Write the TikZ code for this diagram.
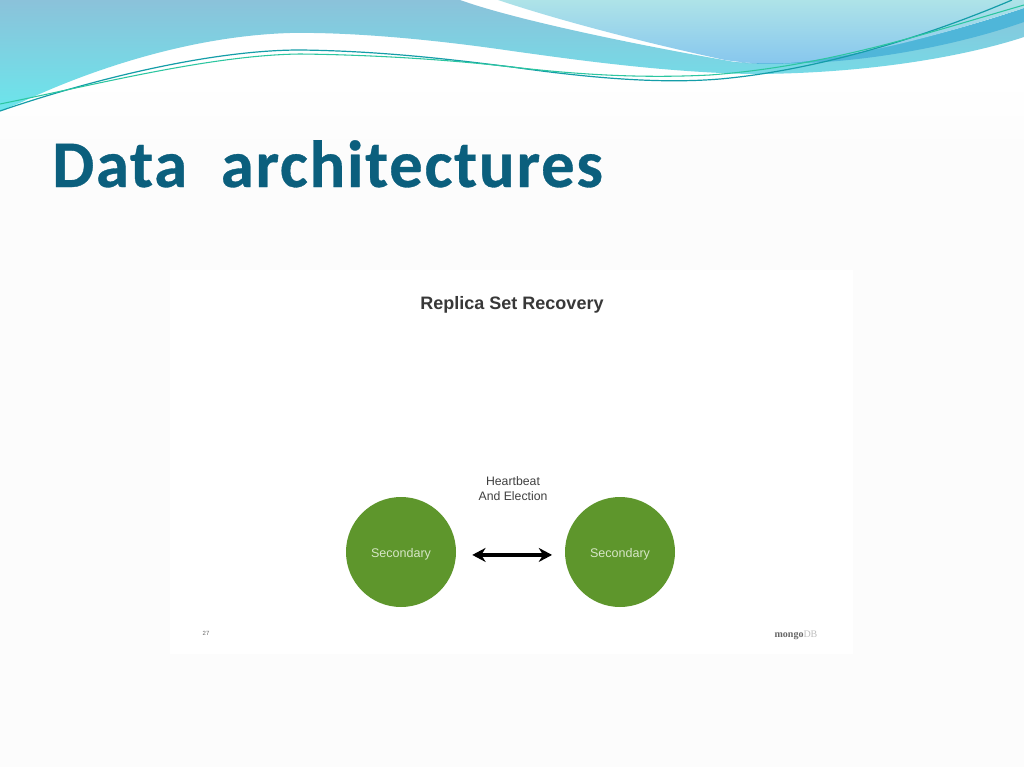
\documentclass[tikz,border=0pt]{standalone}
\usepackage{fontspec}
\setmainfont{Carlito}
\newfontfamily\titlefam[LetterSpace=2.6,FakeBold=0.5]{Carlito Bold}
\newfontfamily\helv{Liberation Sans}
\newfontfamily\seriffam{Liberation Serif}
\usetikzlibrary{arrows.meta}
\definecolor{pagebg}{HTML}{FCFCFC}
\definecolor{titleblue}{HTML}{0B5F7D}
\definecolor{nodegreen}{HTML}{5E962C}
\definecolor{lineteal}{HTML}{149DA8}
\definecolor{linegreen}{HTML}{2CC6A0}
\definecolor{bandtop}{HTML}{8BC2DA}
\definecolor{bandbot}{HTML}{6BE6EC}
\definecolor{uptop}{HTML}{AEE3E8}
\definecolor{upbot}{HTML}{86C6EE}
\definecolor{deepband}{HTML}{4FB6D9}
\definecolor{sectext}{HTML}{D6E6C6}
\tikzset{
  secnode/.style={circle,fill=nodegreen,minimum size=82.5pt,inner sep=0pt,text=sectext,text depth=0pt,font=\helv\fontsize{9.4pt}{11pt}\selectfont},
  caption/.style={text=black!75,align=center,font=\helv\fontsize{9.2pt}{11pt}\selectfont},
  heartarrow/.style={{Stealth[length=10pt,width=10.5pt]}-{Stealth[length=10pt,width=10.5pt]},line width=2.6pt,black},
}
\begin{document}
\begin{tikzpicture}[x=0.75pt,y=-0.75pt]
\useasboundingbox (0,0) rectangle (1024,767);
\fill[pagebg] (0,0) rectangle (1024,767);
\shade[top color=white,bottom color=pagebg] (0,80) rectangle (1024,150);
\fill[white] (0,0) rectangle (1024,80);
\fill[white] (170,270) rectangle (853,654);
% main wave band
\shade[top color=bandtop,bottom color=bandbot]
  (0,0) -- (460,0) .. controls (510,18) and (620,42) .. (735,62)
  .. controls (760,65) and (780,64) .. (800,62)
  .. controls (880,52) and (970,35) .. (1024,8) -- (1024,37)
  .. controls (960,58) and (860,74) .. (750,74)
  .. controls (660,72) and (570,59) .. (512,51)
  .. controls (430,39) and (350,32) .. (290,33)
  .. controls (190,36) and (90,70) .. (22,102) -- (0,111) -- cycle;
% deeper band at right
\fill[deepband]
  (735,62) .. controls (790,66) and (900,50) .. (1024,8) -- (1024,22)
  .. controls (950,48) and (860,62) .. (800,63)
  .. controls (780,64) and (760,65) .. (735,62) -- cycle;
% upper light shape
\shade[top color=uptop,bottom color=upbot]
  (498,0) -- (1024,0) -- (1024,8)
  .. controls (950,32) and (880,52) .. (800,62)
  .. controls (770,65) and (745,63) .. (725,60)
  .. controls (660,46) and (570,24) .. (498,0) -- cycle;
% thin lines
\coordinate (la) at (0,111);
\coordinate (lb) at (1012,0);
\coordinate (ga) at (0,104);
\coordinate (gb) at (1024,5);
\draw[lineteal,line width=0.9pt] (la)
  .. controls (90,80) and (210,50) .. (300,50)
  .. controls (390,51) and (470,62) .. (512,67)
  .. controls (590,78) and (660,84) .. (720,79)
  .. controls (820,70) and (930,35) .. (lb);
\draw[linegreen,line width=0.8pt] (ga)
  .. controls (90,86) and (210,55) .. (300,54)
  .. controls (390,55) and (470,62) .. (512,67)
  .. controls (590,76) and (650,78) .. (710,75)
  .. controls (830,66) and (930,32) .. (gb);
% title
\node[anchor=base west,inner sep=0pt,text=titleblue,font=\titlefam\fontsize{50pt}{54pt}\selectfont] (title) at (52,187) {Data\ \ architectures};
% slide content
\node[anchor=base,inner sep=0pt,text=black!78,font=\helv\bfseries\fontsize{13.5pt}{16pt}\selectfont] (rec) at (512,309) {Replica Set Recovery};
\node[secnode] (a) at (401,552) {\raisebox{-2pt}{Secondary}};
\node[secnode] (b) at (620,552) {\raisebox{-2pt}{Secondary}};
\node[caption] (hb) at (513,488.5) {Heartbeat\\And Election};
\draw[heartarrow,shorten <=12pt,shorten >=9.5pt] ([yshift=-2.2pt]a.east) -- ([yshift=-2.2pt]b.west);
\node[inner sep=0pt,text=black!60,font=\helv\fontsize{4.5pt}{5pt}\selectfont] (pg) at (206,633) {27};
\node[inner sep=0pt,font=\seriffam\fontsize{7.5pt}{8pt}\selectfont] (logo) at (796,635) {\textcolor{black!60}{\bfseries mongo}\textcolor{black!25}{DB}};
\end{tikzpicture}
\end{document}
